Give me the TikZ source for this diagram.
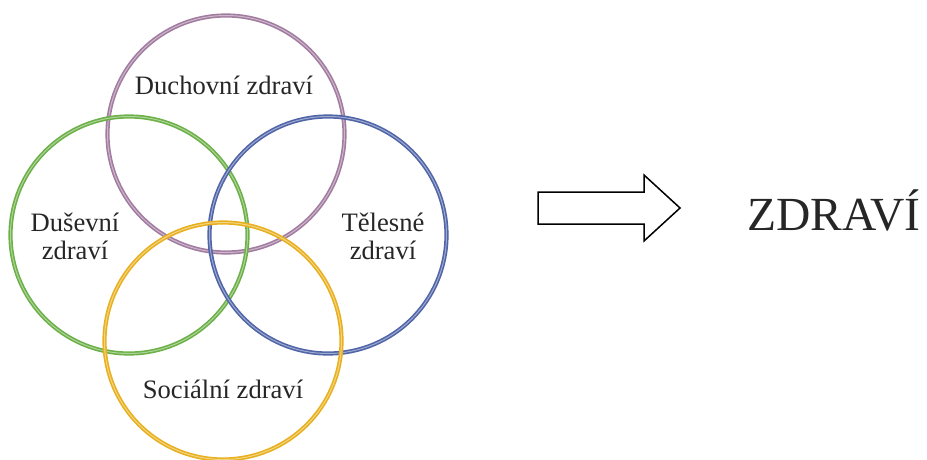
\documentclass[tikz,border=0pt]{standalone}
\usepackage{fontspec}
\setmainfont{Liberation Serif}
\usepackage{tikz}
\definecolor{duchc}{RGB}{162,124,160}
\definecolor{dusc}{RGB}{108,176,72}
\definecolor{telc}{RGB}{80,100,168}
\definecolor{socc}{RGB}{232,176,30}

\begin{document}
\begin{tikzpicture}[x=1pt,y=-1pt,
 ring/.style={circle,draw=#1,line width=1.6pt,double=#1!55,double distance=1pt,inner sep=0pt,minimum size=237pt},
 lbl/.style={font=\fontsize{26.6}{28}\selectfont,text=black!85,align=center,inner sep=0pt}]
 \useasboundingbox (0,0) rectangle (927,460);
 \node[ring=duchc](duch) at (226,134) {};
 \node[ring=dusc](dus) at (129,235) {};
 \node[ring=telc](tel) at (328,235) {};
 \node[ring=socc](soc) at (223,341) {};
 \node[lbl,anchor=base](duchl) at (224,95) {Duchovní zdraví};
 \node[lbl](dusl) at (75,236) {Duševní\\zdraví};
 \node[lbl](tell) at (383,236) {Tělesné\\zdraví};
 \node[lbl,anchor=base](socl) at (223,398) {Sociální zdraví};
 \node[lbl,font=\fontsize{47.5}{50}\selectfont,anchor=base](zdr) at (834,230) {ZDRAVÍ};
 % sipka
 \draw[line width=1.5pt,line join=miter] (538,192) -- (644,192) -- (644,175) -- (680,208)
   -- (644,241) -- (644,224) -- (538,224) -- cycle;
\end{tikzpicture}
\end{document}
